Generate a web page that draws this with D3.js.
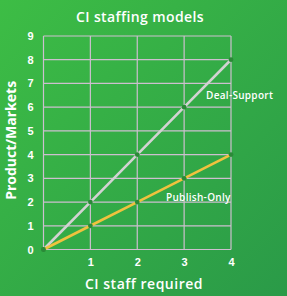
<!DOCTYPE html>
<html>
<head>
<meta charset="utf-8">
<script src="https://cdn.jsdelivr.net/npm/d3@7"></script>
<style>
  body { margin: 0; }
  svg { display: block; font-family: "Open Sans", sans-serif; }
  .grid line { stroke: #cdbfcf; stroke-width: 1.2; }
  .tick text { fill: #fff; font-weight: 700; font-size: 11px; }
</style>
</head>
<body>
<div id="chart"></div>
<script>
"use strict";

var staff = [0, 1, 2, 3, 4];
var deal_support = [0, 2, 4, 6, 8];
var publish_only = [0, 1, 2, 3, 4];
var y_ticks = [0, 1, 2, 3, 4, 5, 6, 7, 8, 9];
var x_ticks = [1, 2, 3, 4];

var width = 287, height = 296;
var margin = { left: 43.5, right: 56, top: 36, bottom: 46.5 };

var svg = d3.select("#chart").append("svg")
    .attr("width", width)
    .attr("height", height);

// background gradient
var grad = svg.append("defs").append("linearGradient")
    .attr("id", "bg")
    .attr("x1", "0%").attr("y1", "0%")
    .attr("x2", "100%").attr("y2", "100%");
grad.append("stop").attr("offset", "0%").attr("stop-color", "#3dbd45");
grad.append("stop").attr("offset", "100%").attr("stop-color", "#2a9a48");
svg.append("rect")
    .attr("width", width).attr("height", height)
    .attr("fill", "url(#bg)");

var x = d3.scaleLinear().domain([0, 4])
    .range([margin.left, width - margin.right]);
var y = d3.scaleLinear().domain([0, 9])
    .range([height - margin.bottom, margin.top]);

// grid
var grid = svg.append("g").attr("class", "grid");
grid.selectAll("line.h").data(y_ticks).enter().append("line")
    .attr("x1", x(0)).attr("x2", x(4))
    .attr("y1", function(d) { return y(d); })
    .attr("y2", function(d) { return y(d); });
grid.selectAll("line.v").data(staff).enter().append("line")
    .attr("y1", y(0)).attr("y2", y(9))
    .attr("x1", function(d) { return x(d); })
    .attr("x2", function(d) { return x(d); });

// axes (labels only)
var yAxis = svg.append("g")
    .attr("transform", "translate(" + (margin.left - 9) + ",0)")
    .call(d3.axisLeft(y).tickValues(y_ticks).tickFormat(d3.format("d"))
        .tickSize(0).tickPadding(0));
yAxis.select(".domain").remove();
yAxis.selectAll("text").attr("text-anchor", "middle").attr("dx", "-4");

var xAxis = svg.append("g")
    .attr("transform", "translate(0," + (y(0) + 9) + ")")
    .call(d3.axisBottom(x).tickValues(x_ticks).tickFormat(d3.format("d"))
        .tickSize(0).tickPadding(0));
xAxis.select(".domain").remove();

// lines
var line = d3.line()
    .x(function(d) { return x(d[0]); })
    .y(function(d) { return y(d[1]); });

function draw_series(vals, color) {
    var pts = staff.map(function(s, i) { return [s, vals[i]]; });
    svg.append("path")
        .attr("d", line(pts))
        .attr("fill", "none")
        .attr("stroke", color)
        .attr("stroke-width", 2.6);
    svg.selectAll(null).data(pts).enter().append("circle")
        .attr("cx", function(d) { return x(d[0]); })
        .attr("cy", function(d) { return y(d[1]); })
        .attr("r", 2.4)
        .attr("fill", "#2b8a38");
}
draw_series(deal_support, "#d2d2d2");
draw_series(publish_only, "#f0c23e");

// series labels
svg.append("text")
    .attr("x", 206).attr("y", 99)
    .attr("fill", "#fff").attr("font-size", 10).attr("font-weight", 600)
    .attr("letter-spacing", 0.3)
    .text("Deal-Support");
svg.append("text")
    .attr("x", 166).attr("y", 201)
    .attr("fill", "#fff").attr("font-size", 10).attr("font-weight", 600)
    .attr("letter-spacing", 0.3)
    .text("Publish-Only");

// titles
svg.append("text")
    .attr("x", 140).attr("y", 22)
    .attr("text-anchor", "middle")
    .attr("fill", "#fff").attr("font-size", 14).attr("font-weight", 600)
    .attr("letter-spacing", 0.4)
    .text("CI staffing models");
svg.append("text")
    .attr("x", 144).attr("y", 289)
    .attr("text-anchor", "middle")
    .attr("fill", "#fff").attr("font-size", 14).attr("font-weight", 600)
    .attr("letter-spacing", 0.5)
    .text("CI staff required");
svg.append("text")
    .attr("transform", "translate(16," + y(4.6) + ") rotate(-90)")
    .attr("text-anchor", "middle")
    .attr("fill", "#fff").attr("font-size", 14).attr("font-weight", 700)
    .text("Product/Markets");
</script>
</body>
</html>
